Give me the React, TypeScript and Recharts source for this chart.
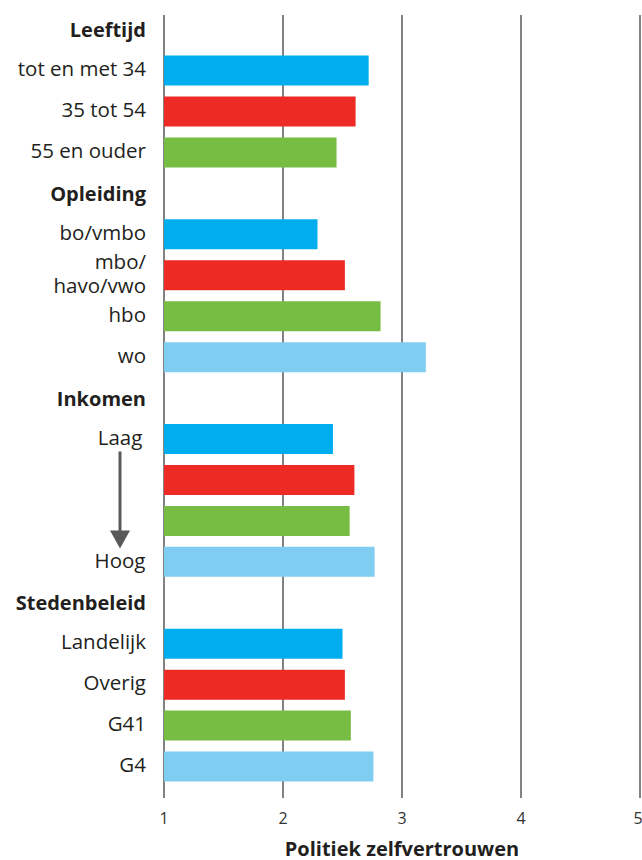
import React from 'react';
import { BarChart, Bar, Cell, XAxis, YAxis, CartesianGrid } from 'recharts';

const groupNames = ['Leeftijd', 'Opleiding', 'Inkomen', 'Stedenbeleid'];

const leeftijdLabels = ['tot en met 34', '35 tot 54', '55 en ouder'];
const leeftijdValues = [2.72, 2.61, 2.45];

const opleidingLabels = ['bo/vmbo', 'mbo/\nhavo/vwo', 'hbo', 'wo'];
const opleidingValues = [2.29, 2.52, 2.82, 3.2];

const inkomenLabels = ['Laag', '', '', 'Hoog'];
const inkomenValues = [2.42, 2.6, 2.56, 2.77];

const stedenLabels = ['Landelijk', 'Overig', 'G41', 'G4'];
const stedenValues = [2.5, 2.52, 2.57, 2.76];

const barColors = ['#00AEEF', '#EE2A24', '#77BD43', '#7FCEF2'];
const xTicks = [1, 2, 3, 4, 5];

const groupLabels = [leeftijdLabels, opleidingLabels, inkomenLabels, stedenLabels];
const groupValues = [leeftijdValues, opleidingValues, inkomenValues, stedenValues];

type Row = {
  key: string;
  label: string;
  value: number | null;
  header: boolean;
  color: string;
  arrow: boolean;
};

const rows: Row[] = [];
groupNames.forEach((g, gi) => {
  rows.push({ key: g, label: g, value: null, header: true, color: 'none', arrow: false });
  groupLabels[gi].forEach((label, i) => {
    rows.push({
      key: `${g}-${i}`,
      label,
      value: groupValues[gi][i],
      header: false,
      color: barColors[i],
      // income runs from low to high: arrow under the first label
      arrow: g === 'Inkomen' && i === 0,
    });
  });
});

const FONT = '"Open Sans", "DejaVu Sans", sans-serif';
const TEXT = '#231f20';

const CategoryTick = (props: any) => {
  const { x, y, payload } = props;
  const row = rows.find(r => r.key === payload.value);
  if (!row) return null;

  if (row.header) {
    return (
      <text x={x} y={y} dy={7} textAnchor="end" fontFamily={FONT} fontSize={20} fontWeight={700} fill={TEXT}>
        {row.label}
      </text>
    );
  }

  if (row.key.startsWith('Inkomen')) {
    const cx = x - 26;
    return (
      <g>
        {row.label && (
          <text x={cx} y={y} dy={6} textAnchor="middle" fontFamily={FONT} fontSize={20.5} fill={TEXT}>
            {row.label}
          </text>
        )}
        {row.arrow && (
          <g>
            <line x1={cx} y1={y + 12} x2={cx} y2={y + 94} stroke="#58595b" strokeWidth={3} />
            <polygon points={`${cx - 10},${y + 91} ${cx + 10},${y + 91} ${cx},${y + 109}`} fill="#58595b" />
          </g>
        )}
      </g>
    );
  }

  const lines = row.label.split('\n');
  const lh = 24;
  const start = -((lines.length - 1) * lh) / 2;
  return (
    <text x={x} y={y} textAnchor="end" fontFamily={FONT} fontSize={20.5} fill={TEXT}>
      {lines.map((l, i) => (
        <tspan key={i} x={x} dy={i === 0 ? start + 5 : lh}>
          {l}
        </tspan>
      ))}
    </text>
  );
};

const App: React.FC = () => {
  return (
    <div style={{ position: 'fixed', top: 0, left: 0, width: 642, height: 860, background: '#fff' }}>
      <BarChart
        width={642}
        height={860}
        data={rows}
        layout="vertical"
        margin={{ top: 15, right: 2, left: 0, bottom: 0 }}
      >
        <CartesianGrid horizontal={false} stroke="#4d4d4d" strokeWidth={1.4} />
        <XAxis
          type="number"
          domain={[1, 5]}
          ticks={xTicks}
          allowDataOverflow
          axisLine={false}
          tickLine={false}
          tickSize={6}
          tickMargin={9}
          height={62}
          tick={{ fontFamily: FONT, fontSize: 16, fill: '#333' }}
          label={{
            value: 'Politiek zelfvertrouwen',
            position: 'insideBottom',
            offset: 4,
            style: { fontFamily: FONT, fontSize: 20, fontWeight: 700, fill: TEXT },
          }}
        />
        <YAxis
          type="category"
          dataKey="key"
          width={164}
          interval={0}
          axisLine={false}
          tickLine={false}
          tickSize={0}
          tickMargin={18}
          padding={{ top: -5.4, bottom: 10.5 }}
          tick={<CategoryTick />}
        />
        <Bar dataKey="value" barSize={30} isAnimationActive={false}>
          {rows.map((r, i) => (
            <Cell key={`cell-${i}`} fill={r.color} />
          ))}
        </Bar>
      </BarChart>
    </div>
  );
};

export default App;
